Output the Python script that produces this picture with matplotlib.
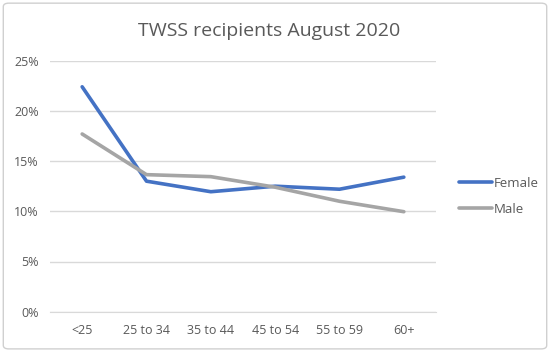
import matplotlib.pyplot as plt
from matplotlib.patches import FancyBboxPatch
from matplotlib.ticker import FuncFormatter

categories = ['<25', '25 to 34', '35 to 44', '45 to 54', '55 to 59', '60+']
female = [22.4, 13.0, 11.95, 12.5, 12.2, 13.4]
male = [17.7, 13.65, 13.45, 12.4, 11.0, 9.96]

plt.rcParams['font.family'] = ['Open Sans', 'DejaVu Sans']

fig = plt.figure(figsize=(5.5, 3.51), dpi=100, facecolor='white')
# rounded chart border
fig.patches.append(FancyBboxPatch((0.006, 0.006), 0.988, 0.985,
                                  boxstyle='round,pad=0,rounding_size=0.01',
                                  transform=fig.transFigure, fill=False,
                                  edgecolor='#d0d0d0', linewidth=1))

ax = fig.add_axes([50 / 550, 1 - 311.7 / 351, 386 / 550, (311.7 - 60.7) / 351])
x = range(len(categories))
ax.plot(x, female, color='#4472c4', linewidth=2.6, label='Female', solid_capstyle='round')
ax.plot(x, male, color='#a5a5a5', linewidth=2.6, label='Male', solid_capstyle='round')

ax.set_xlim(-0.5, len(categories) - 0.5)
ax.set_ylim(0, 25)
ax.set_yticks([0, 5, 10, 15, 20, 25])
ax.yaxis.set_major_formatter(FuncFormatter(lambda v, p: f'{v:.0f}%'))
ax.set_xticks(list(x))
ax.set_xticklabels(categories)
ax.grid(axis='y', color='#d9d9d9', linewidth=1)
ax.set_axisbelow(True)
for s in ['top', 'right', 'left']:
    ax.spines[s].set_visible(False)
ax.spines['bottom'].set_color('#d9d9d9')
ax.tick_params(length=0, colors='#595959', labelsize=9)
ax.tick_params(axis='y', pad=8)
ax.tick_params(axis='x', pad=9)

fig.text(0.49, 0.912, 'TWSS recipients August 2020', ha='center', va='center',
         fontsize=14, color='#595959')

ax.legend(loc='center left', bbox_to_anchor=(1.03, 0.46), frameon=False,
          fontsize=9.5, handlelength=2.5, handletextpad=0.1, labelspacing=0.95,
          labelcolor='#595959')

plt.savefig('out.png', dpi=100)
